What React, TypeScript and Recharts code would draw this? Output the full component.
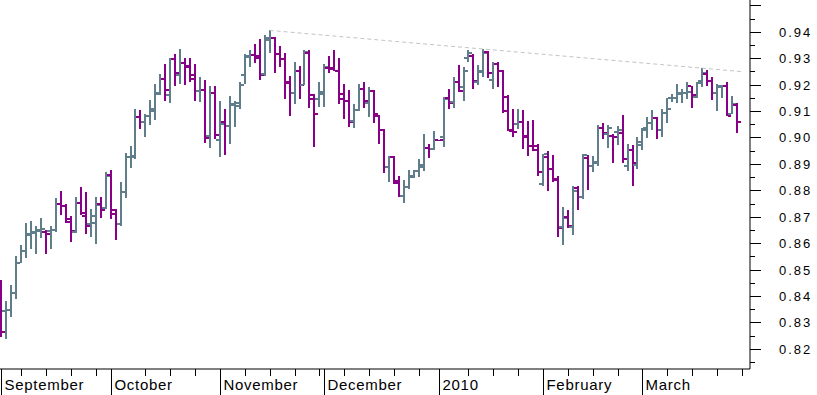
import { ComposedChart, Bar, XAxis, YAxis, ReferenceLine } from "recharts";

// trading days per month (forex, every weekday)
const tradingDays: Record<string, number[]> = {
  "2009-09": [1, 2, 3, 4, 7, 8, 9, 10, 11, 14, 15, 16, 17, 18, 21, 22, 23, 24, 25, 28, 29, 30],
  "2009-10": [1, 2, 5, 6, 7, 8, 9, 12, 13, 14, 15, 16, 19, 20, 21, 22, 23, 26, 27, 28, 29, 30],
  "2009-11": [2, 3, 4, 5, 6, 9, 10, 11, 12, 13, 16, 17, 18, 19, 20, 23, 24, 25, 26, 27, 30],
  "2009-12": [1, 2, 3, 4, 7, 8, 9, 10, 11, 14, 15, 16, 17, 18, 21, 22, 23, 24, 25, 28, 29, 30, 31],
  "2010-01": [1, 4, 5, 6, 7, 8, 11, 12, 13, 14, 15, 18, 19, 20, 21, 22, 25, 26, 27, 28, 29],
  "2010-02": [1, 2, 3, 4, 5, 8, 9, 10, 11, 12, 15, 16, 17, 18, 19, 22, 23, 24, 25, 26],
  "2010-03": [1, 2, 3, 4, 5, 8, 9, 10, 11, 12, 15, 16, 17, 18, 19, 22, 23, 24, 25, 26],
};
// empty slots at the right edge of the chart
const blankDays = ["2010-03-29", "2010-03-30"];

const open = [
  0.8448, 0.8345, 0.8348, 0.8410, 0.8525, 0.8570, 0.8635, 0.8640, 0.8650, 0.8641, 0.8647, 0.8648, 0.8747, 0.8740, 0.8679, 0.8643, 0.8751, 0.8703, 0.8671, 0.8676, 0.8747, 0.8732,
  0.8858, 0.8710, 0.8672, 0.8795, 0.8925, 0.8925, 0.9076, 0.9057, 0.9081, 0.9106, 0.9164, 0.9220, 0.9160, 0.9295, 0.9238, 0.9280, 0.9271, 0.9220, 0.9175, 0.9178, 0.9004, 0.9168,
  0.8989, 0.9058, 0.9045, 0.9125, 0.9118, 0.9238, 0.9308, 0.9312, 0.9300, 0.9241, 0.9367, 0.9377, 0.9314, 0.9297, 0.9209, 0.9168, 0.9251, 0.9200, 0.9321, 0.9160, 0.9144,
  0.9173, 0.9261, 0.9261, 0.9253, 0.9144, 0.9137, 0.9063, 0.9103, 0.9183, 0.9131, 0.9176, 0.9081, 0.9028, 0.8889, 0.8927, 0.8835, 0.8780, 0.8812, 0.8849, 0.8873, 0.8887, 0.8959, 0.8957,
  0.8990, 0.9002, 0.9148, 0.9135, 0.9210, 0.9189, 0.9299, 0.9307, 0.9208, 0.9248, 0.9324, 0.9219, 0.9276, 0.9252, 0.9154, 0.9025, 0.9050, 0.9057, 0.9004, 0.8967, 0.8968,
  0.8823, 0.8927, 0.8880, 0.8839, 0.8660, 0.8700, 0.8662, 0.8807, 0.8773, 0.8923, 0.8893, 0.8904, 0.9034, 0.9013, 0.9005, 0.9020, 0.9018, 0.8892, 0.8952, 0.8896,
  0.8984, 0.9034, 0.9053, 0.9072, 0.9028, 0.9093, 0.9148, 0.9151, 0.9164, 0.9168, 0.9194, 0.9154, 0.9214, 0.9239, 0.9213, 0.9169, 0.9191, 0.9194, 0.9087, 0.9122,
];
const high = [
  0.8461, 0.8383, 0.8442, 0.8552, 0.8593, 0.8677, 0.8684, 0.8666, 0.8695, 0.8650, 0.8665, 0.8770, 0.8797, 0.8748, 0.8703, 0.8776, 0.8813, 0.8793, 0.8729, 0.8776, 0.8775, 0.8868,
  0.8877, 0.8729, 0.8830, 0.8942, 0.8967, 0.9107, 0.9103, 0.9087, 0.9141, 0.9204, 0.9239, 0.9277, 0.9301, 0.9314, 0.9334, 0.9302, 0.9302, 0.9277, 0.9227, 0.9216, 0.9193, 0.9194,
  0.9137, 0.9106, 0.9156, 0.9137, 0.9209, 0.9314, 0.9329, 0.9353, 0.9371, 0.9386, 0.9405, 0.9379, 0.9345, 0.9320, 0.9231, 0.9285, 0.9272, 0.9330, 0.9330, 0.9164, 0.9208,
  0.9277, 0.9307, 0.9330, 0.9301, 0.9202, 0.9179, 0.9126, 0.9202, 0.9208, 0.9189, 0.9181, 0.9084, 0.9031, 0.8929, 0.8929, 0.8854, 0.8839, 0.8877, 0.8877, 0.8917, 0.9013, 0.8977, 0.9025,
  0.8992, 0.9154, 0.9185, 0.9227, 0.9273, 0.9265, 0.9330, 0.9315, 0.9273, 0.9333, 0.9326, 0.9286, 0.9286, 0.9254, 0.9160, 0.9107, 0.9107, 0.9103, 0.9062, 0.9066, 0.8977,
  0.8937, 0.8948, 0.8933, 0.8854, 0.8738, 0.8725, 0.8816, 0.8816, 0.8937, 0.8933, 0.8931, 0.9047, 0.9053, 0.9047, 0.9013, 0.9043, 0.9084, 0.8974, 0.8971, 0.9000,
  0.9034, 0.9076, 0.9103, 0.9078, 0.9106, 0.9148, 0.9166, 0.9202, 0.9185, 0.9208, 0.9194, 0.9210, 0.9261, 0.9254, 0.9229, 0.9204, 0.9198, 0.9210, 0.9156, 0.9129,
];
const low = [
  0.8246, 0.8238, 0.8322, 0.8388, 0.8524, 0.8545, 0.8578, 0.8560, 0.8621, 0.8560, 0.8578, 0.8643, 0.8708, 0.8675, 0.8606, 0.8640, 0.8708, 0.8635, 0.8625, 0.8598, 0.8696, 0.8728,
  0.8691, 0.8612, 0.8666, 0.8772, 0.8885, 0.8918, 0.9031, 0.9002, 0.9048, 0.9066, 0.9160, 0.9138, 0.9129, 0.9195, 0.9204, 0.9198, 0.9210, 0.9138, 0.9135, 0.8980, 0.8961, 0.8995,
  0.8926, 0.8934, 0.8976, 0.9039, 0.9108, 0.9203, 0.9268, 0.9282, 0.9218, 0.9234, 0.9320, 0.9244, 0.9268, 0.9146, 0.9080, 0.9126, 0.9144, 0.9198, 0.9110, 0.8965, 0.9114,
  0.9116, 0.9242, 0.9250, 0.9125, 0.9068, 0.9038, 0.9034, 0.9100, 0.9110, 0.9076, 0.9053, 0.8977, 0.8864, 0.8830, 0.8824, 0.8773, 0.8753, 0.8804, 0.8845, 0.8849, 0.8874, 0.8921, 0.8952,
  0.8988, 0.8962, 0.9107, 0.9112, 0.9173, 0.9138, 0.9286, 0.9183, 0.9200, 0.9229, 0.9225, 0.9183, 0.9191, 0.9091, 0.9025, 0.9002, 0.9032, 0.8956, 0.8931, 0.8948, 0.8855,
  0.8817, 0.8798, 0.8832, 0.8624, 0.8594, 0.8656, 0.8631, 0.8725, 0.8768, 0.8801, 0.8870, 0.8893, 0.8993, 0.8959, 0.8902, 0.8971, 0.8902, 0.8874, 0.8817, 0.8879,
  0.8952, 0.8999, 0.9028, 0.8996, 0.9002, 0.9053, 0.9135, 0.9132, 0.9129, 0.9144, 0.9112, 0.9148, 0.9191, 0.9195, 0.9141, 0.9100, 0.9151, 0.9081, 0.9087, 0.9018,
];
const close = [
  0.8263, 0.8348, 0.8411, 0.8524, 0.8570, 0.8631, 0.8643, 0.8647, 0.8654, 0.8635, 0.8648, 0.8747, 0.8740, 0.8690, 0.8645, 0.8751, 0.8715, 0.8665, 0.8703, 0.8743, 0.8724, 0.8854,
  0.8725, 0.8672, 0.8795, 0.8925, 0.8928, 0.9076, 0.9057, 0.9081, 0.9100, 0.9169, 0.9223, 0.9179, 0.9295, 0.9242, 0.9280, 0.9265, 0.9236, 0.9175, 0.9179, 0.8998, 0.9168, 0.9011,
  0.9049, 0.9045, 0.9121, 0.9130, 0.9197, 0.9306, 0.9312, 0.9310, 0.9238, 0.9377, 0.9377, 0.9314, 0.9297, 0.9205, 0.9168, 0.9253, 0.9199, 0.9324, 0.9144, 0.9088, 0.9164,
  0.9265, 0.9259, 0.9253, 0.9166, 0.9137, 0.9058, 0.9103, 0.9183, 0.9137, 0.9176, 0.9088, 0.9028, 0.8889, 0.8927, 0.8826, 0.8778, 0.8812, 0.8854, 0.8873, 0.8894, 0.8959, 0.8957, 0.8990,
  0.8989, 0.9144, 0.9132, 0.9210, 0.9176, 0.9252, 0.9320, 0.9212, 0.9253, 0.9321, 0.9242, 0.9277, 0.9253, 0.9101, 0.9027, 0.9019, 0.9057, 0.9000, 0.8967, 0.8952, 0.8868,
  0.8936, 0.8880, 0.8843, 0.8657, 0.8695, 0.8664, 0.8797, 0.8773, 0.8932, 0.8893, 0.8908, 0.9034, 0.9015, 0.9034, 0.9002, 0.9028, 0.8917, 0.8952, 0.8902, 0.8971,
  0.9030, 0.9053, 0.9072, 0.9028, 0.9091, 0.9106, 0.9151, 0.9170, 0.9170, 0.9172, 0.9160, 0.9207, 0.9242, 0.9213, 0.9169, 0.9194, 0.9195, 0.9081, 0.9125, 0.9057,
];

const monthLabels: Record<string, string> = {
  "2009-09-01": "September",
  "2009-10-01": "October",
  "2009-11-02": "November",
  "2009-12-01": "December",
  "2010-01-01": "2010",
  "2010-02-01": "February",
  "2010-03-01": "March",
};
const weekTicks = [
  "2009-09-07", "2009-09-14", "2009-09-21", "2009-09-28",
  "2009-10-12", "2009-10-19", "2009-10-26",
  "2009-11-09", "2009-11-16", "2009-11-23", "2009-11-30",
  "2009-12-07", "2009-12-14", "2009-12-21", "2009-12-28",
  "2010-01-11", "2010-01-18", "2010-01-25",
  "2010-02-08", "2010-02-15", "2010-02-22",
  "2010-03-08", "2010-03-15", "2010-03-22", "2010-03-29",
];
const priceTicks = [
  0.815, 0.82, 0.825, 0.83, 0.835, 0.84, 0.845, 0.85, 0.855, 0.86, 0.865, 0.87, 0.875, 0.88,
  0.885, 0.89, 0.895, 0.9, 0.905, 0.91, 0.915, 0.92, 0.925, 0.93, 0.935, 0.94, 0.945, 0.95,
];
const priceLabels = [0.82, 0.83, 0.84, 0.85, 0.86, 0.87, 0.88, 0.89, 0.9, 0.91, 0.92, 0.93, 0.94];

// resistance line through the November and March highs
const trendDates = ["2009-11-16", "2010-03-29"];
const trendValues = [0.9405, 0.9249];

const UP = "#607d8b";
const DOWN = "#880088";
const FONT = "'Liberation Sans', Arial, sans-serif";

const dates = [
  ...Object.entries(tradingDays).flatMap(([m, days]) =>
    days.map((d) => `${m}-${String(d).padStart(2, "0")}`)
  ),
  ...blankDays,
];

const rows = dates.map((date, i) =>
  i < open.length
    ? { date, open: open[i], high: high[i], low: low[i], close: close[i], range: [low[i], high[i]] }
    : { date, range: null }
);

// eslint-disable-next-line @typescript-eslint/no-explicit-any
const OhlcBar = (props: any) => {
  const { x, y, width, height, payload } = props;
  if (!payload || payload.high == null) return <g />;
  const cx = Math.round(x + width / 2);
  const span = payload.high - payload.low;
  const toY = (v: number) => Math.round(span > 0 ? y + ((payload.high - v) / span) * height : y);
  const top = Math.round(y);
  const bottom = Math.max(Math.round(y + height), top + 1);
  const color = payload.close >= payload.open ? UP : DOWN;
  return (
    <g fill={color}>
      <rect x={cx - 1} y={top} width={2} height={bottom - top} />
      <rect x={cx - 4} y={toY(payload.open) - 1} width={3} height={2} />
      <rect x={cx + 1} y={toY(payload.close) - 1} width={3} height={2} />
    </g>
  );
};

// eslint-disable-next-line @typescript-eslint/no-explicit-any
const DateTick = ({ x, y, payload }: any) => {
  const px = Math.round(x) + 0.5;
  const label = monthLabels[payload.value];
  if (label) {
    return (
      <g>
        <line x1={px} x2={px} y1={y} y2={y + 26} stroke="#000" />
        <text x={px + 3} y={y + 21} fontSize={15} fontFamily={FONT} letterSpacing={0.7} fill="#000">
          {label}
        </text>
      </g>
    );
  }
  return <line x1={px} x2={px} y1={y} y2={y + 7} stroke="#000" />;
};

// eslint-disable-next-line @typescript-eslint/no-explicit-any
const PriceTick = ({ x, y, payload }: any) => {
  const v = payload.value as number;
  const labelled = priceLabels.some((p) => Math.abs(p - v) < 1e-6);
  const major = Math.round(v * 1000) % 10 === 0;
  const py = Math.round(y) + 0.5;
  return (
    <g>
      <line x1={x} x2={x + (major ? 11 : 5)} y1={py} y2={py} stroke="#000" />
      {labelled && (
        <text x={x + 29} y={py + 4} fontSize={13} fontFamily={FONT} letterSpacing={2} fill="#000">
          {v.toFixed(2)}
        </text>
      )}
    </g>
  );
};

export default function App() {
  return (
    <div style={{ position: "absolute", left: 0, top: 0, background: "#fff" }}>
      <ComposedChart
        width={817}
        height={395}
        data={rows}
        margin={{ top: 0, right: 0, bottom: 0, left: -1.2 }}
        barCategoryGap={0}
      >
        <XAxis
          dataKey="date"
          ticks={[...Object.keys(monthLabels), ...weekTicks]}
          interval={0}
          tick={<DateTick />}
          tickLine={false}
          tickSize={0}
          tickMargin={0}
          height={26}
          padding={{ left: 0, right: 0.7 }}
          axisLine={{ stroke: "#000" }}
        />
        <YAxis
          orientation="right"
          type="number"
          domain={[0.8124, 0.952]}
          allowDataOverflow
          ticks={priceTicks}
          interval={0}
          width={67}
          tick={<PriceTick />}
          tickLine={false}
          tickSize={0}
          tickMargin={0}
          axisLine={{ stroke: "#000" }}
        />
        <ReferenceLine
          segment={[
            { x: trendDates[0], y: trendValues[0] },
            { x: trendDates[1], y: trendValues[1] },
          ]}
          stroke="#c4c4c4"
          strokeDasharray="4 3"
          ifOverflow="visible"
        />
        <Bar dataKey="range" shape={<OhlcBar />} isAnimationActive={false} />
      </ComposedChart>
    </div>
  );
}
